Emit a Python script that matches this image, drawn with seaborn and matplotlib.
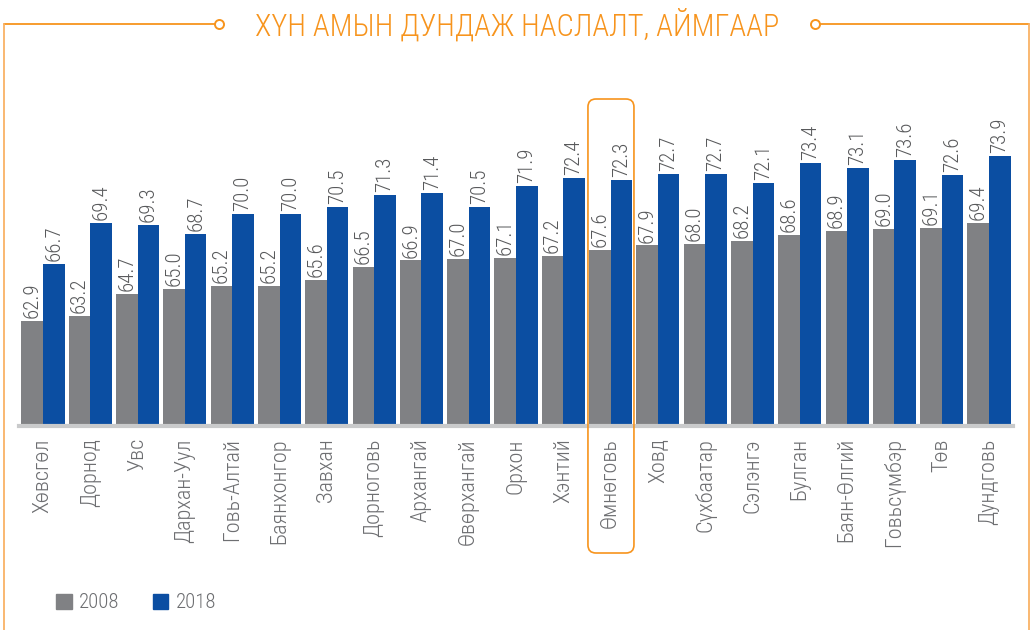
import matplotlib
matplotlib.use("Agg")
import matplotlib.pyplot as plt
import pandas as pd
import seaborn as sns
from matplotlib import font_manager
from matplotlib.lines import Line2D
from matplotlib.patches import FancyBboxPatch, Patch
from matplotlib.transforms import IdentityTransform

# data
aimags = ["Хөвсгөл", "Дорнод", "Увс", "Дархан-Уул", "Говь-Алтай", "Баянхонгор",
          "Завхан", "Дорноговь", "Архангай", "Өвөрхангай", "Орхон", "Хэнтий",
          "Өмнөговь", "Ховд", "Сүхбаатар", "Сэлэнгэ", "Булган", "Баян-Өлгий",
          "Говьсүмбэр", "Төв", "Дундговь"]
life_2008 = [62.9, 63.2, 64.7, 65.0, 65.2, 65.2, 65.6, 66.5, 66.9, 67.0, 67.1,
             67.2, 67.6, 67.9, 68.0, 68.2, 68.6, 68.9, 69.0, 69.1, 69.4]
life_2018 = [66.7, 69.4, 69.3, 68.7, 70.0, 70.0, 70.5, 71.3, 71.4, 70.5, 71.9,
             72.4, 72.3, 72.7, 72.7, 72.1, 73.4, 73.1, 73.6, 72.6, 73.9]
years = ["2008", "2018"]
highlight = "Өмнөговь"
title = "ХҮН АМЫН ДУНДАЖ НАСЛАЛТ, АЙМГААР"

df = pd.DataFrame({
    "aimag": aimags * 2,
    "year": [years[0]] * len(aimags) + [years[1]] * len(aimags),
    "value": life_2008 + life_2018,
})

sns.set_style("white")
# pick a narrow face if one is there
names = {f.name for f in font_manager.fontManager.ttflist}
fam = "DejaVu Sans"
for cand in ["Roboto Condensed", "Liberation Sans Narrow", "Roboto", "Liberation Sans"]:
    if cand in names:
        fam = cand
        break
plt.rcParams["font.family"] = [fam, "DejaVu Sans"]
plt.rcParams["font.weight"] = "light"

orange = "#F7941D"
gray_txt = "#6D6E71"
colors = {"2008": "#808184", "2018": "#0B4EA2"}

fig = plt.figure(figsize=(10.31, 6.30), dpi=100)
ax = fig.add_axes([19.35 / 1031, 206 / 630, 993.3 / 1031, 300 / 630])

sns.barplot(data=df, x="aimag", y="value", hue="year", palette=colors,
            width=0.91, gap=0, ax=ax, legend=False, linewidth=0, saturation=1)
ax.set_ylim(56, 76)
ax.set_xlim(-0.5, len(aimags) - 0.5)

for cont in ax.containers:
    ax.bar_label(cont, fmt="%.1f", rotation=90, padding=2, fontsize=15,
                 color="#58595B", fontweight="light")

for s in ["left", "right", "top"]:
    ax.spines[s].set_visible(False)
ax.spines["bottom"].set_color("#C9CACB")
ax.spines["bottom"].set_linewidth(3)
ax.spines["bottom"].set_position(("outward", 1.2))
ax.set_yticks([])
ax.set_xlabel("")
ax.set_ylabel("")
ax.tick_params(axis="x", length=0, pad=9, labelrotation=90, labelsize=16,
               labelcolor=gray_txt)

# legend
handles = [Patch(color=colors[y]) for y in years]
fig.legend(handles, years, loc="center left",
           bbox_to_anchor=(56 / 1031, 1 - 603 / 630), ncol=2, frameon=False,
           handlelength=0.75, handleheight=0.75, handletextpad=0.35,
           columnspacing=1.6, borderpad=0, borderaxespad=0, fontsize=15,
           labelcolor=gray_txt)

# highlight box around one aimag
i = aimags.index(highlight)
x0 = ax.transData.transform((i - 0.5, 56))[0]
box = FancyBboxPatch((x0 + 1, 630 - 553), 46, 454,
                     boxstyle="round,pad=0,rounding_size=8",
                     transform=IdentityTransform(), fill=False,
                     edgecolor=orange, linewidth=1.2)
fig.add_artist(box)

# title with orange frame
fig.text(517 / 1031, 1 - 25 / 630, title, ha="center", va="center",
         fontsize=22, color=orange, fontweight="light")
ty = 1 - 24 / 630
fig.add_artist(Line2D([4 / 1031, 215 / 1031], [ty, ty], color=orange, lw=1.3,
                      transform=fig.transFigure))
fig.add_artist(Line2D([819 / 1031, 1029 / 1031], [ty, ty], color=orange, lw=1.3,
                      transform=fig.transFigure))
fig.add_artist(Line2D([4 / 1031, 4 / 1031], [0, ty], color="#F9B266", lw=1.3,
                      transform=fig.transFigure))
fig.add_artist(Line2D([1029 / 1031, 1029 / 1031], [0, ty], color="#F9B266",
                      lw=1.3, transform=fig.transFigure))
fig.add_artist(Line2D([219 / 1031, 815 / 1031], [ty, ty], lw=0, marker="o",
                      markersize=6.5, markerfacecolor="white",
                      markeredgecolor=orange, markeredgewidth=1.4,
                      transform=fig.transFigure))

fig.savefig("out.png", dpi=100, facecolor="white")
